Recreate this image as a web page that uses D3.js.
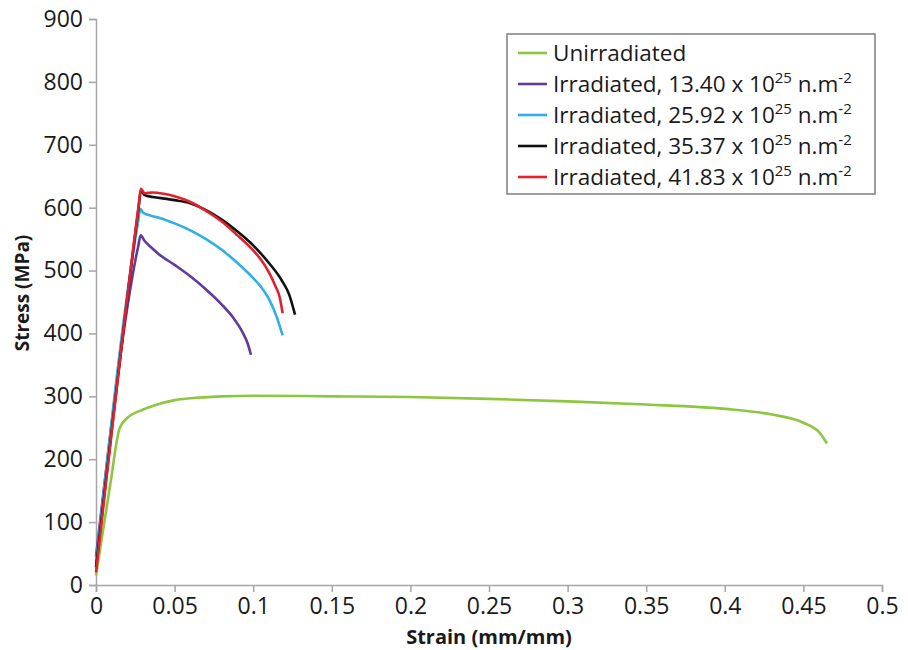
<!DOCTYPE html>
<html>
<head>
<meta charset="utf-8">
<script src="https://cdn.jsdelivr.net/npm/d3@7"></script>
<style>
    body { margin: 0; background: #fff; }
    text { font-family: "Open Sans", sans-serif; fill: #1a1a1a; }
</style>
</head>
<body>
<div id="chart"></div>
<script>
//series names and colours for the legend
var seriesNames = ["Unirradiated", "13.40", "25.92", "35.37", "41.83"];
var seriesColors = ["#8dc63f", "#63399a", "#2eb0e4", "#111111", "#e3202b"];

//strain (mm/mm) and stress (MPa)
var unirradiated = [[0, 15], [0.005, 95], [0.01, 175], [0.0125, 218], [0.0145, 245], [0.017, 258],
    [0.02, 266], [0.03, 279], [0.04, 288], [0.05, 294], [0.06, 297], [0.08, 300], [0.1, 301],
    [0.15, 300], [0.2, 299], [0.25, 296], [0.3, 292], [0.35, 287], [0.4, 280], [0.43, 271],
    [0.45, 258], [0.46, 243], [0.465, 225]];
var irr1340 = [[0, 45], [0.0268, 538], [0.0284, 556], [0.031, 547], [0.035, 537], [0.04, 526],
    [0.05, 509], [0.06, 491], [0.07, 470], [0.08, 446], [0.087, 426], [0.093, 403],
    [0.0965, 384], [0.0986, 366]];
var irr2592 = [[0, 35], [0.0268, 578], [0.0282, 598], [0.03, 592], [0.034, 588], [0.04, 584],
    [0.05, 575], [0.06, 564], [0.07, 550], [0.08, 533], [0.09, 512], [0.1, 488], [0.105, 474],
    [0.11, 455], [0.115, 426], [0.1187, 397]];
var irr3537 = [[0, 28], [0.0272, 602], [0.0285, 627], [0.031, 620], [0.036, 617], [0.045, 614],
    [0.05, 612], [0.06, 607], [0.07, 596], [0.08, 581], [0.09, 562], [0.1, 540], [0.11, 512],
    [0.118, 485], [0.123, 461], [0.1266, 430]];
var irr4183 = [[0, 20], [0.0272, 605], [0.0285, 630], [0.031, 623], [0.036, 624], [0.043, 622],
    [0.05, 618], [0.06, 609], [0.07, 595], [0.08, 578], [0.09, 556], [0.1, 532], [0.105, 517],
    [0.11, 497], [0.114, 476], [0.117, 456], [0.1187, 432]];

//tick values
var xTicks = [0, 0.05, 0.1, 0.15, 0.2, 0.25, 0.3, 0.35, 0.4, 0.45, 0.5];
var yTicks = [0, 100, 200, 300, 400, 500, 600, 700, 800, 900];

function init() {
    var w = 908;
    var h = 650;
    var allSeries = [unirradiated, irr1340, irr2592, irr3537, irr4183];

    var svg = d3.select("#chart")
                .append("svg")
                .attr("width", w)
                .attr("height", h);

    var x = d3.scaleLinear().domain([0, 0.5]).range([96, 882]);
    var y = d3.scaleLinear().domain([0, 900]).range([585, 19]);

    //axes in excel grey
    var xAxis = svg.append("g")
                .attr("transform", "translate(0,585)")
                .call(d3.axisBottom(x).tickValues(xTicks).tickSize(7).tickPadding(6)
                    .tickFormat(function(d) { return d3.format("")(+d.toFixed(2)); }));
    var yAxis = svg.append("g")
                .attr("transform", "translate(96,0)")
                .call(d3.axisLeft(y).tickValues(yTicks).tickSize(7).tickPadding(6));

    [xAxis, yAxis].forEach(function(a) {
        a.select(".domain").attr("stroke", "#a6a6a6").attr("stroke-width", 1.5);
        a.selectAll(".tick line").attr("stroke", "#a6a6a6").attr("stroke-width", 1.5);
        a.selectAll(".tick text")
            .style("font-family", "'Open Sans', sans-serif")
            .style("font-size", "23px")
            .attr("fill", "#1a1a1a");
    });

    //axis titles
    svg.append("text")
        .attr("x", 489)
        .attr("y", 644)
        .attr("text-anchor", "middle")
        .style("font-size", "20px")
        .style("font-weight", "bold")
        .text("Strain (mm/mm)");
    svg.append("text")
        .attr("transform", "translate(29,293) rotate(-90)")
        .attr("text-anchor", "middle")
        .style("font-size", "19px")
        .style("font-weight", "bold")
        .text("Stress (MPa)");

    var line = d3.line()
                .x(function(d) { return x(d[0]); })
                .y(function(d) { return y(d[1]); })
                .curve(d3.curveMonotoneX);

    svg.selectAll("path.series")
        .data(allSeries)
        .enter()
        .append("path")
        .attr("class", "series")
        .attr("fill", "none")
        .attr("stroke", function(d, i) { return seriesColors[i]; })
        .attr("stroke-width", 2.6)
        .attr("stroke-linejoin", "round")
        .attr("d", line);

    //legend box
    var legend = svg.append("g");
    legend.append("rect")
        .attr("x", 507)
        .attr("y", 34)
        .attr("width", 368)
        .attr("height", 160)
        .attr("fill", "#fff")
        .attr("stroke", "#7f7f7f")
        .attr("stroke-width", 1.5);

    var rows = legend.selectAll("g.row")
                .data(seriesNames)
                .enter()
                .append("g")
                .attr("class", "row")
                .attr("transform", function(d, i) { return "translate(0," + (53 + i * 31) + ")"; });

    rows.append("line")
        .attr("x1", 518)
        .attr("x2", 547)
        .attr("stroke", function(d, i) { return seriesColors[i]; })
        .attr("stroke-width", 2.6);

    var label = rows.append("text")
        .attr("x", 553)
        .attr("y", 8)
        .style("font-size", "22.5px");

    label.each(function(d, i) {
        var t = d3.select(this);
        if (i === 0) {
            t.text(d);
            return;
        }
        t.append("tspan").text("Irradiated, " + d + " x 10");
        t.append("tspan").attr("dy", -9).style("font-size", "15px").text("25");
        t.append("tspan").attr("dy", 9).text(" n.m");
        t.append("tspan").attr("dy", -9).style("font-size", "15px").text("-2");
    });
}

window.onload = init;
</script>
</body>
</html>
